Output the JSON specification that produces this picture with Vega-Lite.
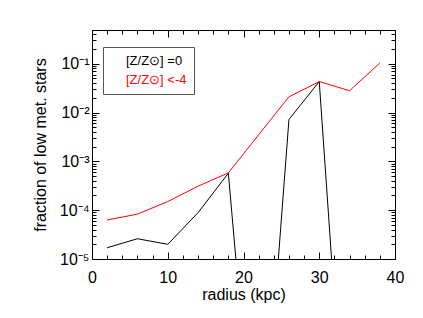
{
  "$schema": "https://vega.github.io/schema/vega-lite/v6.json",
  "autosize": {"type": "none"},
  "padding": {"left": 92, "top": 30, "right": 28, "bottom": 59},
  "width": 303,
  "height": 229,
  "background": "white",
  "config": {
    "view": {"stroke": null},
    "font": "Liberation Sans",
    "axis": {
      "grid": false,
      "domainColor": "#000000",
      "domainWidth": 1,
      "tickColor": "#000000",
      "tickWidth": 1,
      "labelColor": "#000000",
      "labelFont": "Liberation Sans",
      "labelFontSize": 16,
      "titleFont": "Liberation Sans",
      "titleFontSize": 16,
      "titleFontWeight": "normal",
      "titleColor": "#000000",
      "labelFlush": false,
      "labelOverlap": false
    }
  },
  "datasets": {
    "pts": [
      {"radius": 2, "frac": 1.7e-5, "series": "[Z/Z⊙] =0"},
      {"radius": 6, "frac": 2.6e-5, "series": "[Z/Z⊙] =0"},
      {"radius": 10, "frac": 2.0e-5, "series": "[Z/Z⊙] =0"},
      {"radius": 14, "frac": 8.9e-5, "series": "[Z/Z⊙] =0"},
      {"radius": 18, "frac": 5.7e-4, "series": "[Z/Z⊙] =0"},
      {"radius": 22, "frac": 5e-11, "series": "[Z/Z⊙] =0"},
      {"radius": 26, "frac": 7.2e-3, "series": "[Z/Z⊙] =0"},
      {"radius": 30, "frac": 4.3e-2, "series": "[Z/Z⊙] =0"},
      {"radius": 34, "frac": 5e-11, "series": "[Z/Z⊙] =0"},
      {"radius": 38, "frac": 5e-11, "series": "[Z/Z⊙] =0"},
      {"radius": 2, "frac": 6.3e-5, "series": "[Z/Z⊙] <-4"},
      {"radius": 6, "frac": 8.3e-5, "series": "[Z/Z⊙] <-4"},
      {"radius": 10, "frac": 1.5e-4, "series": "[Z/Z⊙] <-4"},
      {"radius": 14, "frac": 3.1e-4, "series": "[Z/Z⊙] <-4"},
      {"radius": 18, "frac": 5.8e-4, "series": "[Z/Z⊙] <-4"},
      {"radius": 22, "frac": 3.5e-3, "series": "[Z/Z⊙] <-4"},
      {"radius": 26, "frac": 2.1e-2, "series": "[Z/Z⊙] <-4"},
      {"radius": 30, "frac": 4.3e-2, "series": "[Z/Z⊙] <-4"},
      {"radius": 34, "frac": 2.8e-2, "series": "[Z/Z⊙] <-4"},
      {"radius": 38, "frac": 1.03e-1, "series": "[Z/Z⊙] <-4"}
    ]
  },
  "data": {"name": "pts"},
  "layer": [
    {
      "mark": {"type": "line", "clip": true, "strokeWidth": 1, "opacity": 0},
      "encoding": {
        "x": {
          "field": "radius", "type": "quantitative",
          "scale": {"domain": [0, 40], "nice": false, "zero": false},
          "axis": {
            "orient": "bottom",
            "title": "radius (kpc)",
            "ticks": false,
            "values": [0, 10, 20, 30, 40],
            "labelBaseline": "alphabetic",
            "labelPadding": 23,
            "titleBaseline": "alphabetic",
            "titleY": 40
          }
        },
        "y": {
          "field": "frac", "type": "quantitative",
          "scale": {"type": "log", "domain": [1e-5, 0.49], "nice": false},
          "axis": {
            "orient": "left",
            "title": "fraction of low met. stars",
            "ticks": false,
            "values": [1e-5, 1e-4, 1e-3, 1e-2, 1e-1],
            "labelExpr": "datum.value == 1e-5 ? '10⁻⁵' : datum.value == 1e-4 ? '10⁻⁴' : datum.value == 1e-3 ? '10⁻³' : datum.value == 1e-2 ? '10⁻²' : '10⁻¹'",
            "labelPadding": 3,
            "titleX": -44,
            "titleY": 114.5,
            "encode": {"labels": {"update": {"dy": {"signal": "datum.value == 1e-5 ? -4 : 0"}}}}
          }
        }
      }
    },
    {
      "mark": {"type": "line", "clip": true, "strokeWidth": 1, "opacity": 0},
      "encoding": {
        "x": {
          "field": "radius", "type": "quantitative",
          "scale": {"domain": [0, 40], "nice": false, "zero": false},
          "axis": {"orient": "bottom", "title": null, "labels": false, "domain": false, "tickSize": -7, "values": [0, 10, 20, 30, 40]}
        },
        "y": {
          "field": "frac", "type": "quantitative",
          "scale": {"type": "log", "domain": [1e-5, 0.49], "nice": false},
          "axis": {"orient": "left", "title": null, "labels": false, "domain": false, "tickSize": -7, "values": [1e-5, 1e-4, 1e-3, 1e-2, 1e-1]}
        }
      }
    },
    {
      "mark": {"type": "line", "clip": true, "strokeWidth": 1, "opacity": 0},
      "encoding": {
        "x": {
          "field": "radius", "type": "quantitative",
          "scale": {"domain": [0, 40], "nice": false, "zero": false},
          "axis": {"orient": "bottom", "title": null, "labels": false, "domain": false, "tickSize": -4, "values": [2,4,6,8,12,14,16,18,22,24,26,28,32,34,36,38]}
        },
        "y": {
          "field": "frac", "type": "quantitative",
          "scale": {"type": "log", "domain": [1e-5, 0.49], "nice": false},
          "axis": {"orient": "left", "title": null, "labels": false, "domain": false, "tickSize": -4, "values": [2e-5,3e-5,4e-5,5e-5,6e-5,7e-5,8e-5,9e-5,2e-4,3e-4,4e-4,5e-4,6e-4,7e-4,8e-4,9e-4,2e-3,3e-3,4e-3,5e-3,6e-3,7e-3,8e-3,9e-3,2e-2,3e-2,4e-2,5e-2,6e-2,7e-2,8e-2,9e-2,2e-1,3e-1,4e-1]}
        }
      }
    },
    {
      "mark": {"type": "line", "clip": true, "strokeWidth": 1, "opacity": 0},
      "encoding": {
        "x": {
          "field": "radius", "type": "quantitative",
          "scale": {"domain": [0, 40], "nice": false, "zero": false},
          "axis": {"orient": "top", "title": null, "labels": false, "tickSize": -7, "values": [0, 10, 20, 30, 40]}
        },
        "y": {
          "field": "frac", "type": "quantitative",
          "scale": {"type": "log", "domain": [1e-5, 0.49], "nice": false},
          "axis": {"orient": "right", "title": null, "labels": false, "tickSize": -7, "values": [1e-5, 1e-4, 1e-3, 1e-2, 1e-1]}
        }
      }
    },
    {
      "mark": {"type": "line", "clip": true, "strokeWidth": 1},
      "encoding": {
        "x": {
          "field": "radius", "type": "quantitative",
          "scale": {"domain": [0, 40], "nice": false, "zero": false},
          "axis": {"orient": "top", "title": null, "labels": false, "domain": false, "tickSize": -4, "values": [2,4,6,8,12,14,16,18,22,24,26,28,32,34,36,38]}
        },
        "y": {
          "field": "frac", "type": "quantitative",
          "scale": {"type": "log", "domain": [1e-5, 0.49], "nice": false},
          "axis": {"orient": "right", "title": null, "labels": false, "domain": false, "tickSize": -4, "values": [2e-5,3e-5,4e-5,5e-5,6e-5,7e-5,8e-5,9e-5,2e-4,3e-4,4e-4,5e-4,6e-4,7e-4,8e-4,9e-4,2e-3,3e-3,4e-3,5e-3,6e-3,7e-3,8e-3,9e-3,2e-2,3e-2,4e-2,5e-2,6e-2,7e-2,8e-2,9e-2,2e-1,3e-1,4e-1]}
        },
        "color": {
          "field": "series", "type": "nominal",
          "scale": {"domain": ["[Z/Z⊙] =0", "[Z/Z⊙] <-4"], "range": ["#000000", "#ff0000"]},
          "legend": {
            "orient": "none",
            "legendX": 11,
            "legendY": 17,
            "title": null,
            "padding": 7,
            "strokeColor": "#555555",
            "symbolSize": 36,
            "symbolOpacity": 0,
            "symbolStrokeWidth": 0,
            "labelOffset": 3,
            "labelFont": "Liberation Sans",
            "labelFontSize": 13,
            "rowPadding": 5,
            "encode": {"labels": {"update": {"fill": {"signal": "datum.label == '[Z/Z⊙] =0' ? '#000000' : '#ff0000'"}}}}
          }
        }
      }
    }
  ],
  "resolve": {"axis": {"x": "independent", "y": "independent"}}
}
